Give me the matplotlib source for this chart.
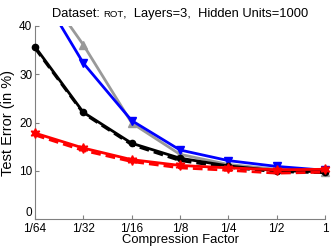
import numpy as np
import matplotlib
matplotlib.use("Agg")
import matplotlib.pyplot as plt
from matplotlib.offsetbox import TextArea, HPacker, AnchoredOffsetbox

plt.rcParams['font.family'] = ['Liberation Sans', 'DejaVu Sans']

factors = [1/64, 1/32, 1/16, 1/8, 1/4, 1/2, 1]
tick_labels = ["1/64", "1/32", "1/16", "1/8", "1/4", "1/2", "1"]

gray_vals = [50.3, 36.1, 19.9, 13.4, 11.3, 10.3, 9.8]
blue_vals = [49.0, 32.3, 20.4, 14.3, 12.1, 10.9, 10.1]
black_vals = [35.7, 22.1, 15.7, 12.6, 11.0, 10.0, 9.8]
black_dash_vals = [35.4, 21.9, 15.4, 12.1, 10.7, 9.8, 9.6]
red_vals = [17.8, 14.7, 12.3, 11.1, 10.6, 10.2, 10.3]
red_dash_vals = [17.4, 14.2, 11.9, 10.6, 10.1, 9.5, 9.7]

fig = plt.figure(figsize=(3.32, 2.5), dpi=100)
ax = fig.add_axes([0.1054, 0.124, 0.8736, 0.772])

lw = 2.0
def series(vals, color, marker, ls="-", ms=6, z=2):
    v = np.array(vals, dtype=float)
    kw = {}
    if ls == "--":
        kw["dashes"] = (3.5, 1.8)
    ax.plot(factors, v, color=color, lw=lw, ls=ls, zorder=z, **kw)
    vm = np.where(v <= 40, v, np.nan)
    ax.plot(factors, vm, ls="none", marker=marker, color=color, ms=ms,
            mec=color, mfc=color, clip_on=False, zorder=z)

series(gray_vals, "#999999", "^", ms=6, z=2)
series(blue_vals, "#0000ff", "v", ms=6, z=3)
series(black_dash_vals, "black", "None", ls="--", z=4)
series(black_vals, "black", "o", ms=4.5, z=4)
series(red_dash_vals, "#ff0000", "None", ls="--", z=5)
series(red_vals, "#ff0000", (6, 1, 0), ms=7, z=5)

ax.set_xscale("log", base=2)
ax.set_xlim(1/64, 1)
ax.set_ylim(0, 40)
ax.set_xticks(factors)
ax.set_xticklabels(tick_labels)
ax.minorticks_off()
ax.set_yticks([0, 10, 20, 30, 40])
for s in ["top", "right"]:
    ax.spines[s].set_visible(False)
for s in ["left", "bottom"]:
    ax.spines[s].set_color("#808080")
    ax.spines[s].set_linewidth(0.8)
ax.tick_params(direction="in", length=3, color="#808080", labelsize=8.5)
ax.tick_params(axis="x", pad=3)
ax.tick_params(axis="y", pad=2)
ax.yaxis.get_major_ticks()[0].label1.set_verticalalignment("bottom")
ax.set_xlabel("Compression Factor", fontsize=9.4, labelpad=-0.5)
ax.set_ylabel("Test Error (in %)", fontsize=10.5, labelpad=3)

ta1 = TextArea("Dataset: ", textprops=dict(fontsize=9.3))
ta2 = TextArea("ROT", textprops=dict(fontsize=6.8))
ta3 = TextArea(",  Layers=3,  Hidden Units=1000", textprops=dict(fontsize=9.3))
box = HPacker(children=[ta1, ta2, ta3], align="baseline", pad=0, sep=0)
anch = AnchoredOffsetbox(loc="lower center", child=box, pad=0, frameon=False,
                         bbox_to_anchor=(0.5, 1.03), bbox_transform=ax.transAxes,
                         borderpad=0)
ax.add_artist(anch)

fig.savefig("out.png", dpi=100)
